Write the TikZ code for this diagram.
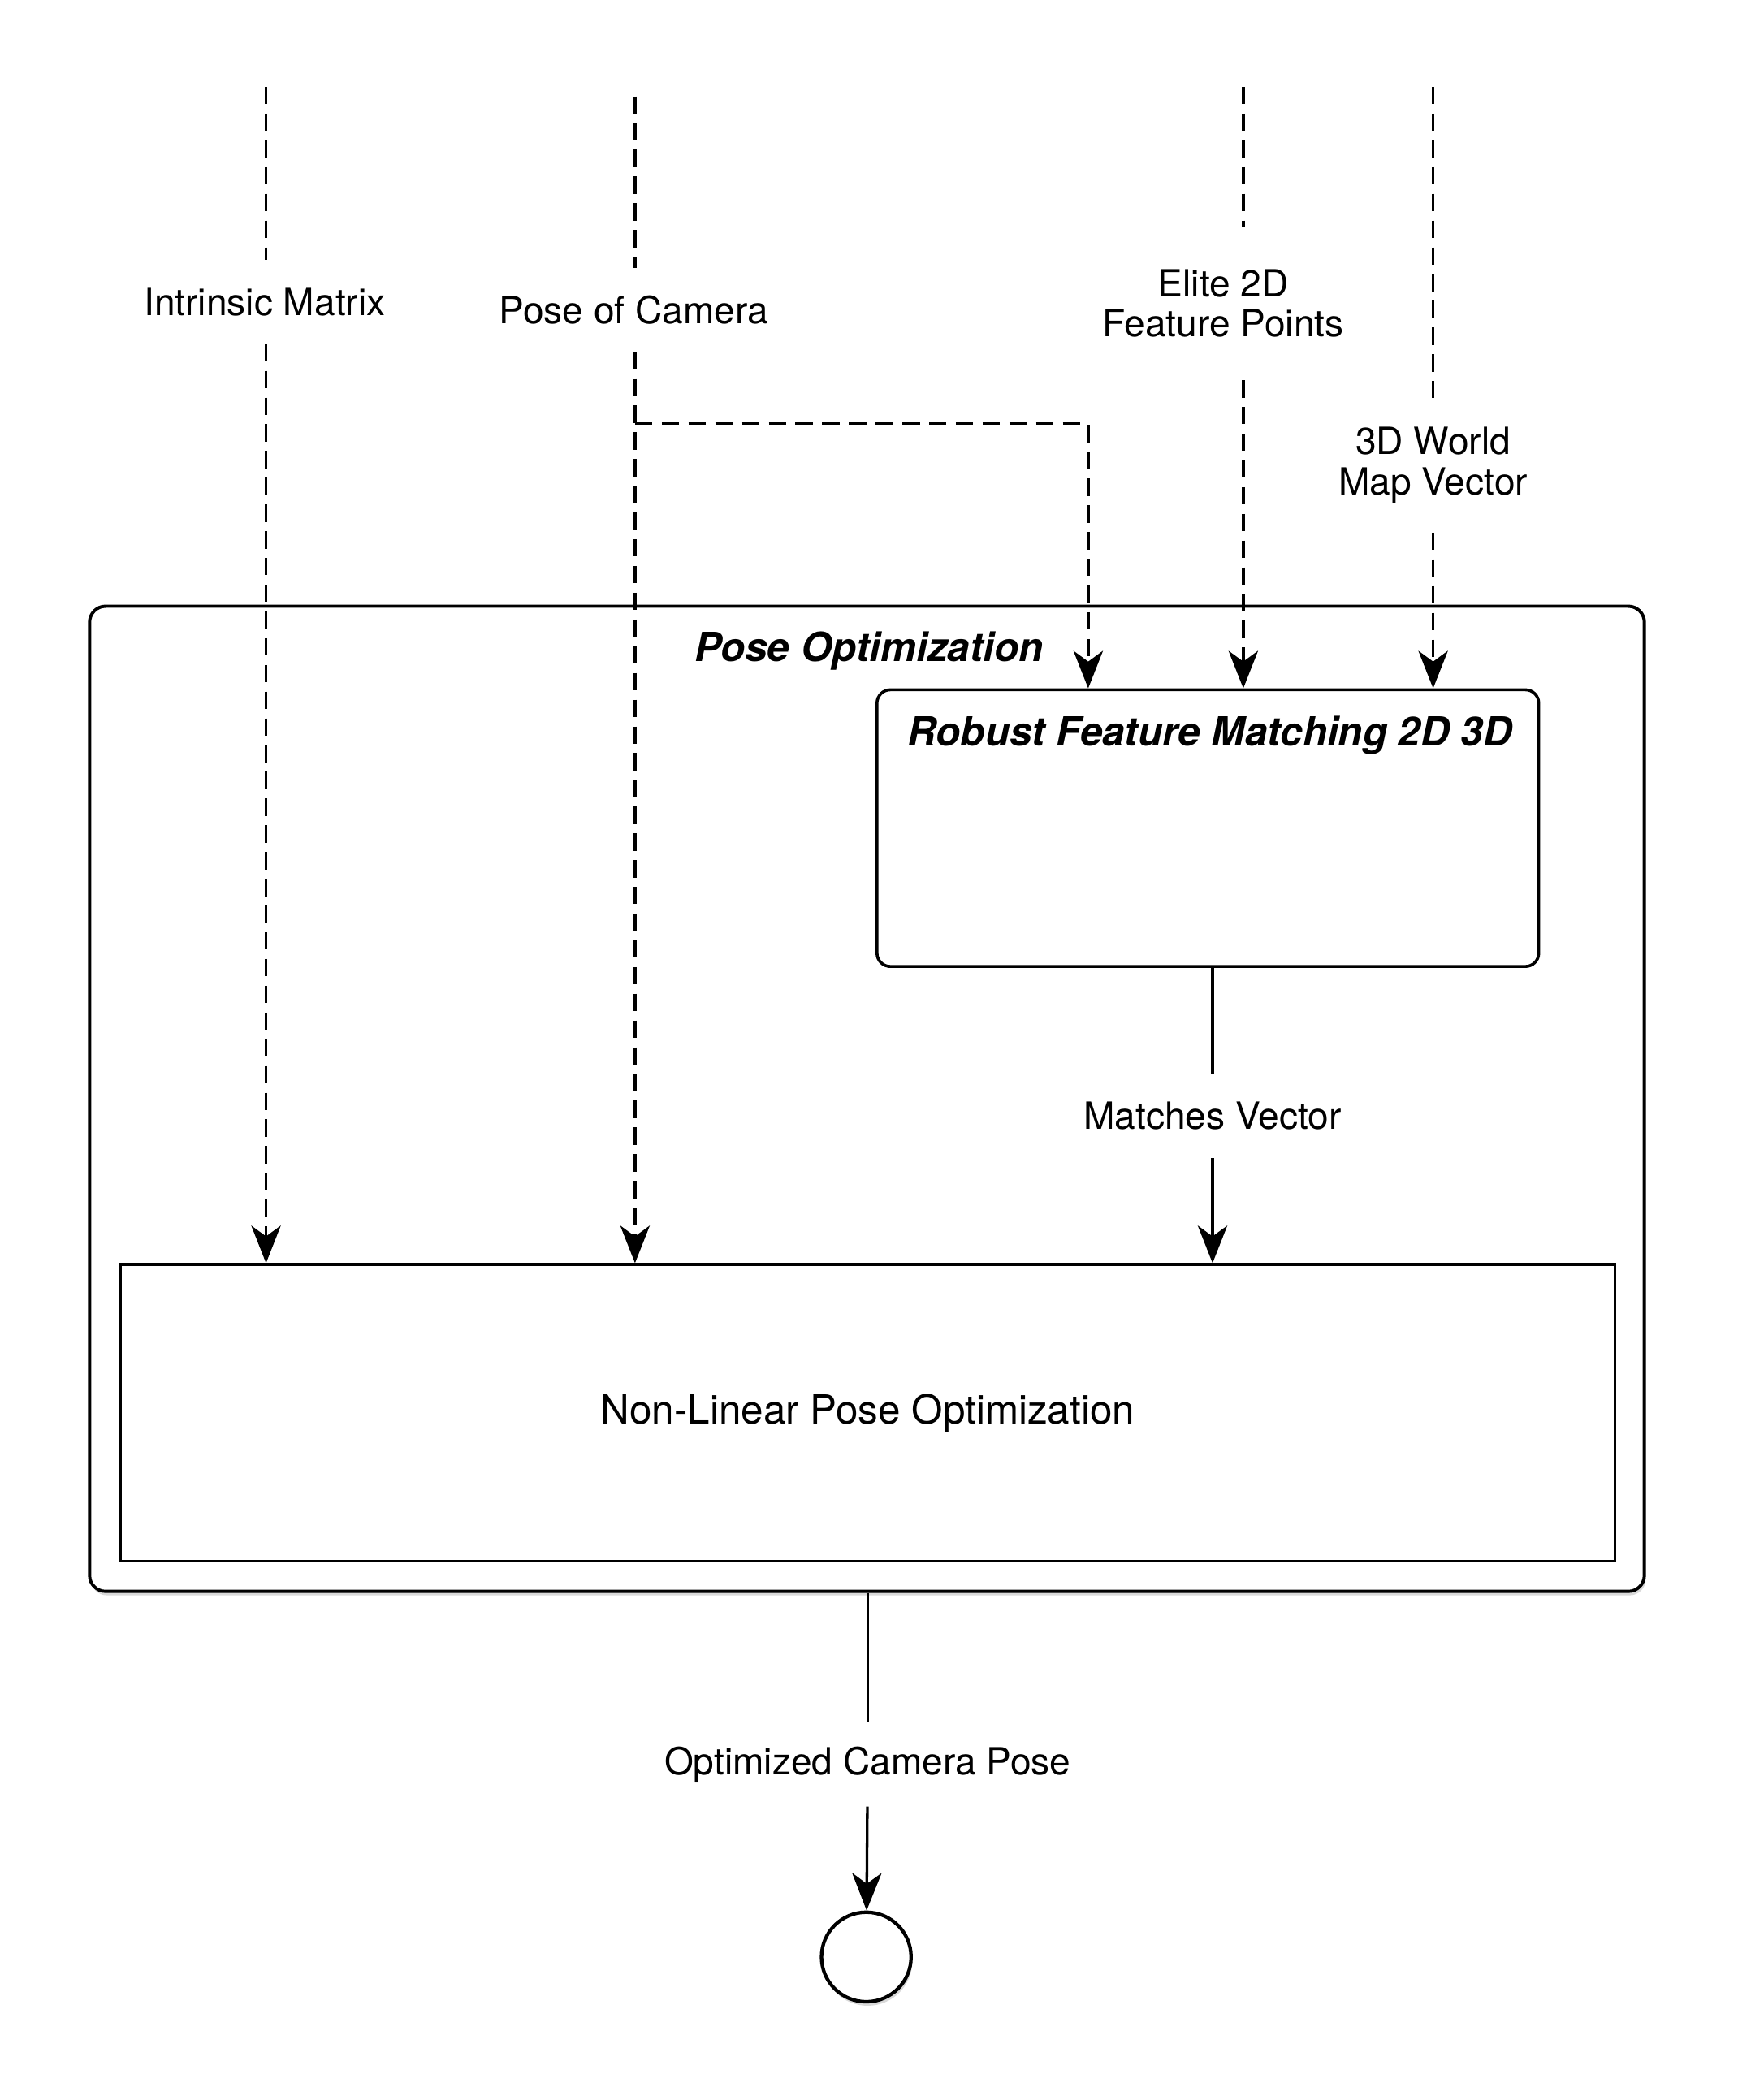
\documentclass[tikz,border=0pt]{standalone}
\usepackage{fontspec}
\setmainfont{TeX Gyre Heros}
\usetikzlibrary{arrows.meta,shadows}

\begin{document}
\begin{tikzpicture}[x=0.5pt,y=-0.5pt,
  font=\fontsize{14}{15}\selectfont,
  headed/.style={-{Stealth[length=14pt,width=11pt,inset=4pt]}},
  dashline/.style={dash pattern=on 6.5pt off 3.5pt,line width=1pt},
  feed/.style={dashline,headed},
  flow/.style={headed,line width=1pt},
  datalabel/.style={inner sep=0pt,minimum height=31pt,align=center},
  boxtitle/.style={font=\fontsize{15}{18}\selectfont\bfseries\itshape}]
\useasboundingbox (0,0) rectangle (1300,1571);

% boxes
\node[draw,fill=white,rounded corners=6pt,line width=1.2pt,minimum width=581.5pt,minimum height=368.5pt,
  drop shadow={opacity=0.3,shadow xshift=0.5pt,shadow yshift=-1.5pt}] (poseopt) at (648.5,822) {};
\node[boxtitle] (poseopt title) at (650,487) {Pose Optimization};
\node[draw,fill=white,rounded corners=5pt,line width=1.1pt,minimum width=247.5pt,minimum height=103.5pt] (robust) at (903.5,619.5) {};
\node[boxtitle] (robust title) at (905,550) {Robust Feature Matching 2D 3D};
\node[draw,line width=1.1pt,minimum width=559pt,minimum height=111pt,font=\fontsize{15}{18}\selectfont] (nlpo) at (649,1057) {Non-Linear Pose Optimization};
\node[circle,draw,fill=white,line width=1.3pt,minimum size=33.5pt,
  drop shadow={opacity=0.3,shadow xshift=0.5pt,shadow yshift=-1.5pt}] (final) at (648,1464) {};

% inputs
\coordinate (intrinsic top) at (199,65);
\node[datalabel] (intrinsic) at (198,226) {Intrinsic Matrix};
\draw[dashline] (intrinsic top) -- (intrinsic.north -| intrinsic top);
\draw[feed] (intrinsic.south -| intrinsic top) -- (nlpo.north -| intrinsic top);

\coordinate (camera top) at (475,72);
\coordinate (split) at (475,317);
\coordinate (pose in) at (814,0);
\node[datalabel] (camera) at (474,232) {Pose of Camera};
\draw[dashline] (camera top) -- (camera.north -| camera top);
\draw[feed] (camera.south -| camera top) -- (nlpo.north -| camera top);
\draw[feed] (split) -| (robust.north -| pose in);

\coordinate (elite top) at (930,65);
\node[datalabel,minimum height=57pt] (elite) at (915,227) {Elite 2D\\Feature Points};
\draw[dashline] (elite top) -- (elite.north -| elite top);
\draw[feed] (elite.south -| elite top) -- (robust.north -| elite top);

\coordinate (world top) at (1072,65);
\node[datalabel,minimum height=50pt] (world) at (1072,348) {3D World\\Map Vector};
\draw[dashline] (world top) -- (world.north);
\draw[feed] (world) -- (robust.north -| world);

% outputs
\node[datalabel] (matches) at (907,835) {Matches Vector};
\draw[line width=1pt] (robust.south -| matches) -- (matches);
\draw[flow] (matches) -- (nlpo.north -| matches);

\node[datalabel] (optimized) at (649,1320) {Optimized Camera Pose};
\draw[line width=1pt] (poseopt.south -| optimized) -- (optimized);
\draw[flow] (optimized) -- (final);
\end{tikzpicture}
\end{document}
